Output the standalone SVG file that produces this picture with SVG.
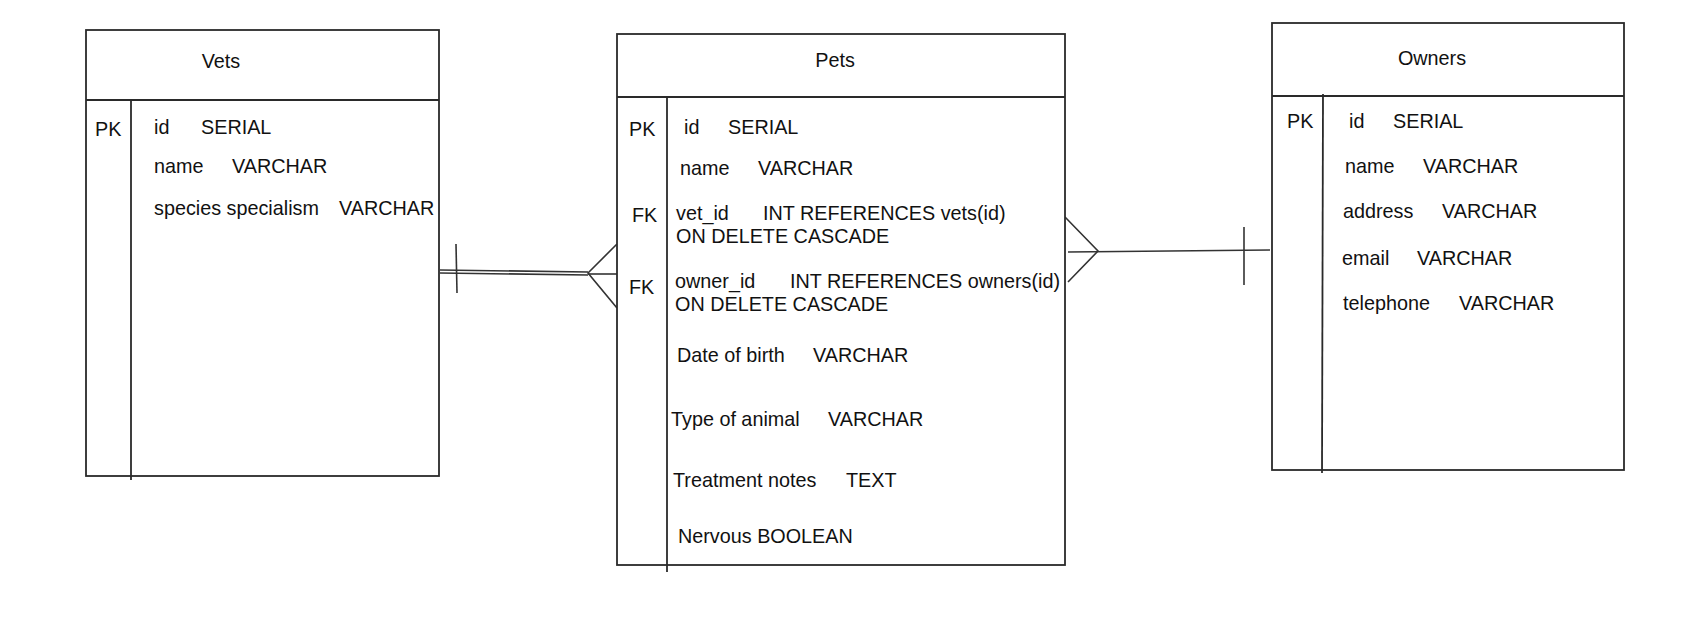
<svg xmlns="http://www.w3.org/2000/svg" width="1689" height="620" viewBox="0 0 1689 620">
<style>
.box{fill:#fff;stroke:#2a2a2a;stroke-width:1.8}
.ln{fill:none;stroke:#2a2a2a;stroke-width:1.8}
.cn{fill:none;stroke:#333;stroke-width:1.6}
text{font-family:"Liberation Sans",Arial,sans-serif;font-size:19.8px;fill:#111}
.c{text-anchor:middle}
</style>
<rect width="1689" height="620" fill="#fff"/>
<g id="connectors">
<line class="cn" x1="440" y1="270" x2="588" y2="272"/>
<line class="cn" x1="440" y1="273" x2="588" y2="275"/>
<line class="cn" x1="588" y1="274" x2="617" y2="274"/>
<polyline class="cn" points="617,244 588,273 617,308"/>
<line class="cn" x1="456" y1="244" x2="457" y2="293"/>
<polyline class="cn" points="1065,217 1098,251 1068,282"/>
<line class="cn" x1="1068" y1="252" x2="1270" y2="250"/>
<line class="cn" x1="1244" y1="227" x2="1244" y2="285"/>
</g>
<g id="vets">
<rect class="box" x="86" y="30" width="353" height="446"/>
<line class="ln" x1="86" y1="100" x2="439" y2="100"/>
<line class="ln" x1="131" y1="100" x2="131" y2="480"/>
<text class="c" x="221" y="68">Vets</text>
<text x="95" y="136">PK</text>
<text x="154" y="134">id<tspan x="201">SERIAL</tspan></text>
<text x="154" y="173">name<tspan x="232">VARCHAR</tspan></text>
<text x="154" y="215">species specialism<tspan x="339">VARCHAR</tspan></text>
</g>
<g id="pets">
<rect class="box" x="617" y="34" width="448" height="531"/>
<line class="ln" x1="617" y1="97" x2="1065" y2="97"/>
<line class="ln" x1="667" y1="97" x2="667" y2="572"/>
<text class="c" x="835" y="67">Pets</text>
<text x="629" y="136">PK</text>
<text x="684" y="134">id<tspan x="728">SERIAL</tspan></text>
<text x="680" y="175">name<tspan x="758">VARCHAR</tspan></text>
<text x="632" y="222">FK</text>
<text x="676" y="220">vet_id<tspan x="763">INT REFERENCES vets(id)</tspan></text>
<text x="676" y="243">ON DELETE CASCADE</text>
<text x="629" y="294">FK</text>
<text x="675" y="288">owner_id<tspan x="790">INT REFERENCES owners(id)</tspan></text>
<text x="675" y="311">ON DELETE CASCADE</text>
<text x="677" y="362">Date of birth<tspan x="813">VARCHAR</tspan></text>
<text x="671" y="426">Type of animal<tspan x="828">VARCHAR</tspan></text>
<text x="673" y="487">Treatment notes<tspan x="846">TEXT</tspan></text>
<text x="678" y="543">Nervous BOOLEAN</text>
</g>
<g id="owners">
<rect class="box" x="1272" y="23" width="352" height="447"/>
<line class="ln" x1="1272" y1="96" x2="1624" y2="96"/>
<line class="ln" x1="1323" y1="94" x2="1322" y2="473"/>
<text class="c" x="1432" y="65">Owners</text>
<text x="1287" y="128">PK</text>
<text x="1349" y="128">id<tspan x="1393">SERIAL</tspan></text>
<text x="1345" y="173">name<tspan x="1423">VARCHAR</tspan></text>
<text x="1343" y="218">address<tspan x="1442">VARCHAR</tspan></text>
<text x="1342" y="265">email<tspan x="1417">VARCHAR</tspan></text>
<text x="1343" y="310">telephone<tspan x="1459">VARCHAR</tspan></text>
</g>
</svg>
